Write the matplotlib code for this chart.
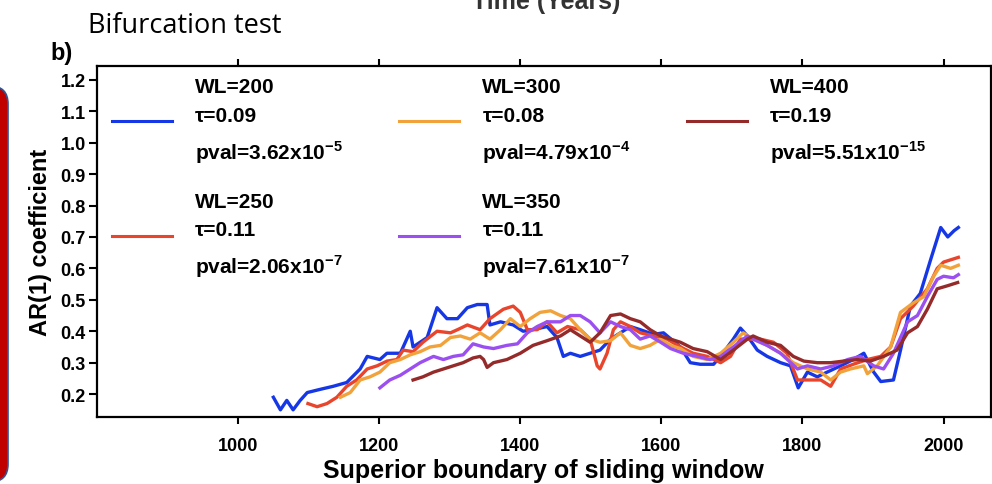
import matplotlib
matplotlib.use('Agg')
import matplotlib.pyplot as plt
from matplotlib.patches import FancyBboxPatch
from matplotlib.transforms import IdentityTransform

plt.rcParams['font.family'] = ['Liberation Sans', 'DejaVu Sans']
plt.rcParams['font.weight'] = 'bold'
plt.rcParams['mathtext.fontset'] = 'custom'
plt.rcParams['mathtext.rm'] = 'Liberation Sans:bold'
plt.rcParams['mathtext.bf'] = 'Liberation Sans:bold'

# AR(1) coefficient vs superior boundary of the sliding window, one series per window length
yr_200 = [1050, 1060, 1069, 1078, 1088, 1098, 1116, 1135, 1154, 1173, 1183, 1201, 1211, 1230, 1244, 1248,
          1268, 1282, 1296, 1311, 1325, 1339, 1353, 1357, 1372, 1390, 1404, 1418, 1438, 1452, 1461, 1471,
          1485, 1499, 1513, 1528, 1542, 1556, 1570, 1589, 1603, 1627, 1641, 1655, 1674, 1684, 1702, 1712,
          1722, 1736, 1750, 1769, 1783, 1794, 1807, 1821, 1835, 1854, 1872, 1887, 1901, 1911, 1929, 1939,
          1953, 1967, 1982, 1996, 2006, 2015, 2021]
ar_200 = [0.19, 0.15, 0.18, 0.15, 0.18, 0.205, 0.215, 0.225, 0.237, 0.28, 0.32, 0.31, 0.33, 0.33, 0.40, 0.35,
          0.38, 0.475, 0.44, 0.44, 0.475, 0.485, 0.485, 0.42, 0.43, 0.42, 0.40, 0.405, 0.415, 0.38, 0.32, 0.33,
          0.32, 0.33, 0.34, 0.375, 0.395, 0.415, 0.405, 0.39, 0.395, 0.35, 0.30, 0.295, 0.295, 0.32, 0.375, 0.41,
          0.385, 0.34, 0.32, 0.30, 0.29, 0.22, 0.27, 0.255, 0.27, 0.29, 0.31, 0.33, 0.27, 0.24, 0.245, 0.34,
          0.48, 0.52, 0.63, 0.73, 0.70, 0.72, 0.73]

yr_250 = [1099, 1112, 1126, 1140, 1154, 1168, 1183, 1197, 1211, 1225, 1234, 1248, 1262, 1282, 1301, 1311,
          1325, 1343, 1357, 1376, 1390, 1400, 1410, 1424, 1438, 1452, 1467, 1485, 1499, 1509, 1513, 1523,
          1532, 1542, 1556, 1570, 1589, 1608, 1627, 1645, 1665, 1684, 1698, 1712, 1730, 1740, 1759, 1778,
          1793, 1807, 1826, 1840, 1854, 1872, 1892, 1911, 1925, 1939, 1957, 1977, 1991, 2000, 2014, 2021]
ar_250 = [0.17, 0.16, 0.17, 0.19, 0.225, 0.245, 0.28, 0.29, 0.305, 0.31, 0.34, 0.335, 0.365, 0.40, 0.395, 0.405,
          0.42, 0.405, 0.44, 0.47, 0.48, 0.46, 0.405, 0.405, 0.43, 0.395, 0.415, 0.405, 0.375, 0.29, 0.28, 0.33,
          0.405, 0.43, 0.415, 0.395, 0.385, 0.375, 0.35, 0.33, 0.32, 0.30, 0.32, 0.375, 0.375, 0.375, 0.365, 0.33,
          0.245, 0.245, 0.245, 0.225, 0.28, 0.295, 0.31, 0.32, 0.35, 0.44, 0.48, 0.535, 0.60, 0.62, 0.63, 0.635]

yr_300 = [1145, 1159, 1173, 1187, 1201, 1215, 1230, 1244, 1258, 1272, 1287, 1301, 1315, 1329, 1343, 1357,
          1372, 1386, 1400, 1414, 1428, 1443, 1457, 1471, 1485, 1499, 1513, 1528, 1542, 1556, 1570, 1584,
          1599, 1613, 1627, 1645, 1665, 1684, 1702, 1716, 1730, 1750, 1769, 1787, 1807, 1826, 1840, 1854,
          1868, 1887, 1892, 1906, 1925, 1939, 1957, 1972, 1986, 1996, 2010, 2021]
ar_300 = [0.19, 0.205, 0.245, 0.255, 0.27, 0.30, 0.31, 0.325, 0.335, 0.35, 0.355, 0.38, 0.385, 0.375, 0.395, 0.375,
          0.405, 0.44, 0.415, 0.44, 0.46, 0.465, 0.45, 0.44, 0.405, 0.375, 0.365, 0.37, 0.395, 0.355, 0.345, 0.355,
          0.375, 0.355, 0.345, 0.32, 0.31, 0.33, 0.365, 0.395, 0.375, 0.355, 0.33, 0.30, 0.28, 0.27, 0.245, 0.27,
          0.28, 0.29, 0.265, 0.29, 0.35, 0.46, 0.49, 0.51, 0.575, 0.61, 0.60, 0.61]

yr_350 = [1201, 1215, 1230, 1244, 1258, 1277, 1291, 1305, 1319, 1333, 1348, 1362, 1381, 1396, 1410, 1424,
          1438, 1457, 1471, 1485, 1499, 1513, 1528, 1542, 1556, 1570, 1584, 1599, 1613, 1631, 1651, 1669,
          1684, 1702, 1722, 1730, 1750, 1769, 1793, 1807, 1826, 1844, 1864, 1882, 1901, 1915, 1929, 1949,
          1963, 1977, 1991, 2000, 2014, 2021]
ar_350 = [0.22, 0.245, 0.26, 0.28, 0.30, 0.32, 0.31, 0.32, 0.325, 0.36, 0.35, 0.345, 0.355, 0.36, 0.395, 0.415,
          0.43, 0.43, 0.45, 0.45, 0.43, 0.395, 0.43, 0.415, 0.405, 0.375, 0.385, 0.365, 0.345, 0.33, 0.32, 0.31,
          0.32, 0.35, 0.385, 0.375, 0.355, 0.33, 0.28, 0.29, 0.28, 0.29, 0.31, 0.32, 0.29, 0.28, 0.33, 0.43,
          0.45, 0.51, 0.565, 0.575, 0.57, 0.58]

yr_400 = [1248, 1262, 1277, 1291, 1305, 1319, 1333, 1343, 1348, 1353, 1362, 1381, 1400, 1418, 1438, 1457,
          1471, 1485, 1499, 1513, 1528, 1542, 1556, 1570, 1584, 1599, 1613, 1627, 1645, 1665, 1684, 1702,
          1722, 1730, 1750, 1769, 1787, 1802, 1821, 1840, 1858, 1878, 1896, 1915, 1934, 1949, 1963, 1977,
          1991, 2006, 2020]
ar_400 = [0.245, 0.255, 0.27, 0.28, 0.29, 0.30, 0.315, 0.32, 0.31, 0.285, 0.30, 0.31, 0.33, 0.355, 0.37, 0.385,
          0.405, 0.385, 0.365, 0.395, 0.45, 0.455, 0.44, 0.43, 0.405, 0.385, 0.375, 0.365, 0.345, 0.335, 0.31, 0.34,
          0.375, 0.385, 0.365, 0.355, 0.32, 0.305, 0.30, 0.30, 0.305, 0.31, 0.305, 0.32, 0.34, 0.395, 0.415, 0.47,
          0.535, 0.545, 0.555]

labels = [r'WL=200' + '\n' + 'τ=0.09' + '\n' + r'pval=3.62x10$^{-5}$',
          r'WL=250' + '\n' + 'τ=0.11' + '\n' + r'pval=2.06x10$^{-7}$',
          r'WL=300' + '\n' + 'τ=0.08' + '\n' + r'pval=4.79x10$^{-4}$',
          r'WL=350' + '\n' + 'τ=0.11' + '\n' + r'pval=7.61x10$^{-7}$',
          r'WL=400' + '\n' + 'τ=0.19' + '\n' + r'pval=5.51x10$^{-15}$']
colors = ['#1537e6', '#e8452c', '#f2a23a', '#9b4ff0', '#952a2a']
series = [(yr_200, ar_200), (yr_250, ar_250), (yr_300, ar_300), (yr_350, ar_350), (yr_400, ar_400)]

fig = plt.figure(figsize=(9.92, 4.85), dpi=100)
ax = fig.add_axes([0.0978, 0.138, 0.901, 0.724])

for (x, y), c, lab in zip(series, colors, labels):
    ax.plot(x, y, color=c, lw=2.4, label=lab)

ax.set_xlim(800, 2067)
ax.set_ylim(0.127, 1.244)
ax.set_xticks([1000, 1200, 1400, 1600, 1800, 2000])
ax.set_yticks([0.2, 0.3, 0.4, 0.5, 0.6, 0.7, 0.8, 0.9, 1.0, 1.1, 1.2])
ax.set_yticklabels(['0.2', '0.3', '0.4', '0.5', '0.6', '0.7', '0.8', '0.9', '1.0', '1.1', '1.2'])
ax.tick_params(axis='x', direction='out', length=5, width=1.5, top=True, labeltop=False,
               labelsize=13, pad=9)
ax.tick_params(axis='y', direction='out', length=6, width=1.5, labelsize=13, pad=2)
for s in ax.spines.values():
    s.set_linewidth(1.6)

ax.set_xlabel('Superior boundary of sliding window', fontsize=18, fontweight='bold', labelpad=3)
ax.set_ylabel('AR(1) coefficient', fontsize=17, fontweight='bold', labelpad=6)

leg = ax.legend(ncol=3, loc='upper left', bbox_to_anchor=(0.0, 1.01), frameon=False,
                fontsize=15, handlelength=2.9, handletextpad=1.1, columnspacing=2.7,
                labelspacing=1.3, borderaxespad=0.3)
for line in leg.get_lines():
    line.set_linewidth(2.2)
for t in leg.get_texts():
    t.set_linespacing(1.65)

# slide decorations around the panel
fig.text(88 / 992, 1 - 33 / 485, 'Bifurcation test', fontsize=19.5, fontweight='normal',
         family=['Open Sans', 'DejaVu Sans'], va='baseline')
fig.text(50 / 992, 1 - 60 / 485, 'b)', fontsize=17, fontweight='bold', va='baseline')
fig.text(546 / 992, 1 - 9 / 485, 'Time (Years)', fontsize=18, fontweight='bold', color='#333333',
         ha='center', va='baseline')

box = FancyBboxPatch((-30, 2), 38, 396, boxstyle='round,pad=0,rounding_size=18',
                     facecolor='#c00000', edgecolor='#2f5597', linewidth=1.2,
                     transform=IdentityTransform())
fig.patches.append(box)

fig.savefig('out.png', dpi=100)
